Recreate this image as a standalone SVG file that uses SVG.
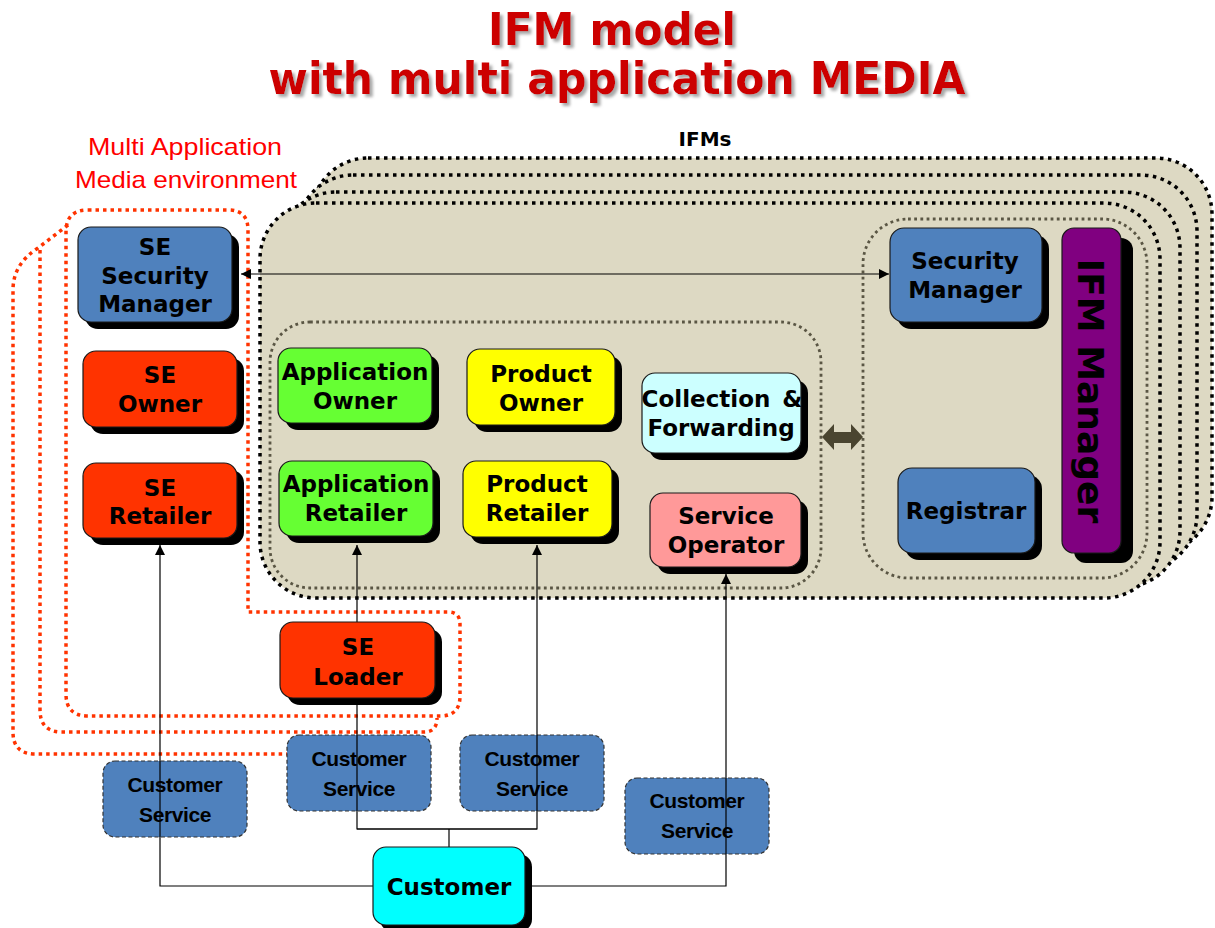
<svg xmlns="http://www.w3.org/2000/svg" width="1215" height="928" viewBox="0 0 1215 928">
  <defs>
    <style>
      .title { font-family: "DejaVu Sans", Verdana, sans-serif; font-weight: bold; font-size: 44px; text-anchor: middle; fill: #CC0000; }
      .env { font-family: "Liberation Sans", Arial, sans-serif; font-size: 24px; fill: #FF0000; text-anchor: middle; }
      .ifms { font-family: "DejaVu Sans", Verdana, sans-serif; font-weight: bold; font-size: 20px; fill: #000; text-anchor: middle; }
      .lbl { font-family: "DejaVu Sans", Verdana, sans-serif; font-weight: bold; font-size: 23px; fill: #000; text-anchor: middle; }
      .cs-lbl { font-family: "Liberation Sans", Arial, sans-serif; font-weight: bold; font-size: 21px; letter-spacing: -0.4px; fill: #000; text-anchor: middle; }
      .shadow { fill: #000; }
      .box { stroke: #1a1a1a; stroke-width: 1.2; }
      .blue { fill: #4F81BD; }
      .red { fill: #FF3300; }
      .green { fill: #66FF33; }
      .yellow { fill: #FFFF00; }
      .ice { fill: #CCFFFF; }
      .pink { fill: #FF9999; }
      .purple { fill: #800080; }
      .cyan { fill: #00FFFF; }
      .cs { fill: #4F81BD; stroke: #333; stroke-width: 1.2; stroke-dasharray: 4 2.5; }
      .env-line { fill: none; stroke: #FF3300; stroke-width: 3.5; stroke-dasharray: 3.5 4; }
      .ifm-card { fill: #DDD9C3; stroke: #000; stroke-width: 3.5; stroke-dasharray: 3.5 4.5; }
      .group-line { fill: none; stroke: #5A5644; stroke-width: 2.8; stroke-dasharray: 2.8 3.4; }
      .wire { fill: none; stroke: #000; stroke-width: 1.2; }
    </style>
    <!-- soft grey drop shadow for the heading -->
    <filter id="title-shadow" x="-5%" y="-30%" width="110%" height="160%">
      <feGaussianBlur in="SourceAlpha" stdDeviation="1.5" result="blur"/>
      <feOffset in="blur" dx="3" dy="3" result="off"/>
      <feFlood flood-color="#A8A8A8"/>
      <feComposite in2="off" operator="in" result="sh"/>
      <feMerge>
        <feMergeNode in="sh"/>
        <feMergeNode in="SourceGraphic"/>
      </feMerge>
    </filter>
    <marker id="tip" viewBox="0 0 10 10" refX="10" refY="5" markerWidth="10" markerHeight="10" markerUnits="userSpaceOnUse" orient="auto-start-reverse">
      <path d="M0,0 L10,5 L0,10 Z" fill="#000"/>
    </marker>
  </defs>

  <!-- heading -->
  <g id="title" class="title" filter="url(#title-shadow)">
    <text x="612" y="45" textLength="248" lengthAdjust="spacingAndGlyphs">IFM model</text>
    <text x="617" y="94" textLength="697" lengthAdjust="spacingAndGlyphs">with multi application MEDIA</text>
  </g>

  <!-- environment caption -->
  <g id="env-caption" class="env">
    <text x="185" y="155" textLength="194" lengthAdjust="spacingAndGlyphs">Multi Application</text>
    <text x="186" y="188" textLength="222" lengthAdjust="spacingAndGlyphs">Media environment</text>
  </g>

  <!-- multi application media environment outlines -->
  <g id="media-environment">
    <path class="env-line" d="M88,210 H228 Q248,210 248,230 V612 H448 Q460,612 460,624 V696 Q460,716 440,716 H88 Q66,716 66,694 V232 Q66,210 88,210 Z"/>
    <path class="env-line" d="M40,250 V710 Q40,732 62,732 H424 Q437,732 437,718"/>
    <path class="env-line" d="M68,225 L38,248 Q13,264 13,290 V732 Q13,754 35,754 H425"/>
  </g>

  <!-- stacked IFM instances -->
  <g id="ifms">
    <rect class="ifm-card" x="312" y="158" width="900" height="395" rx="56"/>
    <rect class="ifm-card" x="297" y="175" width="900" height="395" rx="56"/>
    <rect class="ifm-card" x="280" y="192" width="900" height="395" rx="56"/>
    <rect class="ifm-card" x="260" y="203" width="900" height="395" rx="56"/>
    <text class="ifms" x="705" y="146">IFMs</text>
  </g>

  <!-- inner groupings -->
  <g id="service-group">
    <rect class="group-line" x="270" y="322" width="551" height="266" rx="40"/>
  </g>
  <g id="management-group">
    <rect class="group-line" x="863" y="219" width="284" height="359" rx="45"/>
  </g>

  <!-- customer service blocks -->
  <g id="customer-service-1">
    <rect class="cs" x="103" y="761" width="144" height="76" rx="12"/>
    <text class="cs-lbl" x="175" y="792">Customer</text>
    <text class="cs-lbl" x="175" y="822">Service</text>
  </g>
  <g id="customer-service-2">
    <rect class="cs" x="287" y="735" width="144" height="76" rx="12"/>
    <text class="cs-lbl" x="359" y="766">Customer</text>
    <text class="cs-lbl" x="359" y="796">Service</text>
  </g>
  <g id="customer-service-3">
    <rect class="cs" x="460" y="735" width="144" height="76" rx="12"/>
    <text class="cs-lbl" x="532" y="766">Customer</text>
    <text class="cs-lbl" x="532" y="796">Service</text>
  </g>
  <g id="customer-service-4">
    <rect class="cs" x="625" y="778" width="144" height="76" rx="12"/>
    <text class="cs-lbl" x="697" y="808">Customer</text>
    <text class="cs-lbl" x="697" y="838">Service</text>
  </g>

  <!-- connectors -->
  <g id="connectors">
    <line class="wire" x1="241" y1="274" x2="889" y2="274" marker-start="url(#tip)" marker-end="url(#tip)"/>
    <path class="wire" d="M373,886 H160 V545" marker-end="url(#tip)"/>
    <path class="wire" d="M449,847 V829"/>
    <path class="wire" d="M537,829 H357 V545" marker-end="url(#tip)"/>
    <path class="wire" d="M357,829 H537 V545" marker-end="url(#tip)"/>
    <path class="wire" d="M525,886 H726 V574" marker-end="url(#tip)"/>
    <polygon points="822,437 834,424 834,432 851,432 851,424 863,437 851,450 851,443 834,443 834,450" fill="#4A4530"/>
  </g>

  <!-- nodes -->
  <g id="se-security-manager">
    <rect class="shadow" x="85" y="234" width="154" height="95" rx="13"/>
    <rect class="box blue" x="78" y="227" width="154" height="95" rx="13"/>
    <text class="lbl" x="155" y="255">SE</text>
    <text class="lbl" x="155" y="284">Security</text>
    <text class="lbl" x="155" y="312">Manager</text>
  </g>
  <g id="se-owner">
    <rect class="shadow" x="90" y="358" width="154" height="76" rx="13"/>
    <rect class="box red" x="83" y="351" width="154" height="76" rx="13"/>
    <text class="lbl" x="160" y="383">SE</text>
    <text class="lbl" x="160" y="412">Owner</text>
  </g>
  <g id="se-retailer">
    <rect class="shadow" x="90" y="470" width="154" height="75" rx="13"/>
    <rect class="box red" x="83" y="463" width="154" height="75" rx="13"/>
    <text class="lbl" x="160" y="496">SE</text>
    <text class="lbl" x="160" y="524">Retailer</text>
  </g>
  <g id="application-owner">
    <rect class="shadow" x="285" y="355" width="154" height="75" rx="13"/>
    <rect class="box green" x="278" y="348" width="154" height="75" rx="13"/>
    <text class="lbl" x="355" y="380">Application</text>
    <text class="lbl" x="355" y="409">Owner</text>
  </g>
  <g id="application-retailer">
    <rect class="shadow" x="286" y="468" width="154" height="75" rx="13"/>
    <rect class="box green" x="279" y="461" width="154" height="75" rx="13"/>
    <text class="lbl" x="356" y="492">Application</text>
    <text class="lbl" x="356" y="521">Retailer</text>
  </g>
  <g id="product-owner">
    <rect class="shadow" x="474" y="356" width="148" height="76" rx="13"/>
    <rect class="box yellow" x="467" y="349" width="148" height="76" rx="13"/>
    <text class="lbl" x="541" y="382">Product</text>
    <text class="lbl" x="541" y="411">Owner</text>
  </g>
  <g id="product-retailer">
    <rect class="shadow" x="470" y="468" width="149" height="76" rx="13"/>
    <rect class="box yellow" x="463" y="461" width="149" height="76" rx="13"/>
    <text class="lbl" x="537" y="492">Product</text>
    <text class="lbl" x="537" y="521">Retailer</text>
  </g>
  <g id="collection-forwarding">
    <rect class="shadow" x="649" y="380" width="159" height="80" rx="13"/>
    <rect class="box ice" x="642" y="373" width="159" height="80" rx="13"/>
    <text class="lbl" x="722" y="407" word-spacing="4">Collection &amp;</text>
    <text class="lbl" x="721" y="436">Forwarding</text>
  </g>
  <g id="service-operator">
    <rect class="shadow" x="657" y="500" width="151" height="74" rx="13"/>
    <rect class="box pink" x="650" y="493" width="151" height="74" rx="13"/>
    <text class="lbl" x="726" y="524">Service</text>
    <text class="lbl" x="726" y="553">Operator</text>
  </g>
  <g id="security-manager">
    <rect class="shadow" x="897" y="235" width="152" height="94" rx="14"/>
    <rect class="box blue" x="890" y="228" width="152" height="94" rx="14"/>
    <text class="lbl" x="965" y="269">Security</text>
    <text class="lbl" x="965" y="298">Manager</text>
  </g>
  <g id="registrar">
    <rect class="shadow" x="905" y="475" width="137" height="85" rx="14"/>
    <rect class="box blue" x="898" y="468" width="137" height="85" rx="14"/>
    <text class="lbl" x="966" y="519">Registrar</text>
  </g>
  <g id="ifm-manager">
    <rect class="shadow" x="1074" y="238" width="59" height="325" rx="12"/>
    <rect class="box purple" x="1062" y="228" width="59" height="325" rx="12"/>
    <text class="lbl" transform="translate(1078,391) rotate(90)" x="0" y="0" style="font-size:36px">IFM Manager</text>
  </g>
  <g id="se-loader">
    <rect class="shadow" x="287" y="629" width="155" height="76" rx="13"/>
    <rect class="box red" x="280" y="622" width="155" height="76" rx="13"/>
    <text class="lbl" x="358" y="655">SE</text>
    <text class="lbl" x="358" y="685">Loader</text>
  </g>
  <g id="customer">
    <rect class="shadow" x="380" y="854" width="152" height="78" rx="13"/>
    <rect class="box cyan" x="373" y="847" width="152" height="78" rx="13"/>
    <text class="lbl" x="449" y="895">Customer</text>
  </g>
</svg>
